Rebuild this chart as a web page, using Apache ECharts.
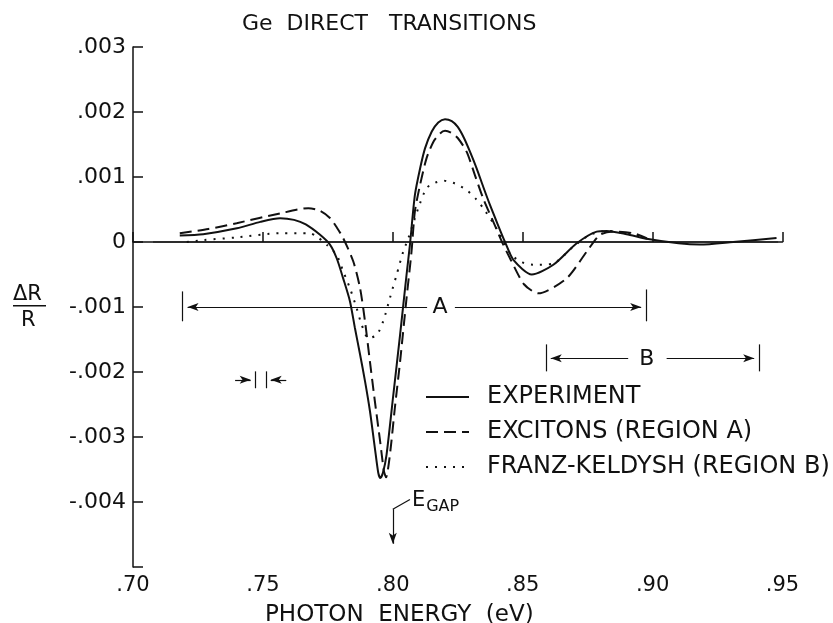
<!DOCTYPE html>
<html><head><meta charset="utf-8">
<script src="https://cdn.jsdelivr.net/npm/echarts/dist/echarts.min.js"></script>
<style>html,body{margin:0;padding:0;background:#fff}#c{width:833px;height:623px}</style>
</head><body><div id="c"></div><script>
// x: photon energy (eV); y: dR/R in units of 1e-3
const seriesNames = ['EXPERIMENT', 'EXCITONS (REGION A)', 'FRANZ-KELDYSH (REGION B)'];
const expX = [0.718,0.727,0.740,0.749,0.7566,0.762,0.7665,0.772,0.7758,0.7784,0.7809,0.7835,0.7854,0.7874,0.7893,0.7912,0.7931,0.7944,0.7952,0.7962,0.7976,0.8002,0.8028,0.8053,0.8066,0.8085,0.8105,0.8124,0.815,0.8175,0.8201,0.8227,0.8250,0.8274,0.8297,0.8323,0.8348,0.8374,0.840,0.8432,0.8465,0.8535,0.8618,0.8708,0.8785,0.8823,0.890,0.8977,0.910,0.9182,0.931,0.9477];
const expY = [0.10,0.12,0.21,0.31,0.366,0.34,0.27,0.11,-0.04,-0.25,-0.56,-0.91,-1.32,-1.73,-2.14,-2.60,-3.17,-3.55,-3.63,-3.55,-3.27,-2.35,-1.43,-0.50,-0.04,0.72,1.13,1.44,1.70,1.84,1.89,1.86,1.77,1.60,1.39,1.13,0.85,0.57,0.31,0.0,-0.28,-0.50,-0.35,-0.02,0.16,0.17,0.12,0.05,-0.02,-0.04,0.0,0.06];
const excX = [0.718,0.729,0.7399,0.7566,0.7675,0.772,0.7758,0.7785,0.7809,0.7848,0.7874,0.7893,0.7912,0.7931,0.7951,0.7966,0.7974,0.7989,0.8008,0.8028,0.8053,0.8072,0.8085,0.8105,0.813,0.8156,0.8182,0.8201,0.8225,0.8250,0.8284,0.8316,0.8348,0.8387,0.8425,0.8451,0.8505,0.856,0.8669,0.8746,0.8797,0.8849,0.8926,0.8977];
const excY = [0.135,0.20,0.29,0.44,0.52,0.48,0.37,0.22,0.06,-0.30,-0.71,-1.22,-1.84,-2.45,-3.06,-3.53,-3.62,-3.27,-2.55,-1.84,-0.86,-0.15,0.47,0.88,1.29,1.54,1.67,1.71,1.68,1.60,1.39,1.03,0.67,0.31,-0.04,-0.25,-0.65,-0.79,-0.56,-0.15,0.11,0.16,0.135,0.06];
const fkX = [0.7207,0.7271,0.7399,0.7566,0.7681,0.7707,0.7745,0.7784,0.7809,0.7835,0.7861,0.788,0.7906,0.7938,0.7963,0.7989,0.8015,0.804,0.806,0.8098,0.813,0.8162,0.8194,0.8239,0.8284,0.8323,0.8348,0.8387,0.8413,0.8451,0.849,0.854,0.8618,0.8695,0.8759,0.8823,0.8926,0.9003];
const fkY = [0.0,0.03,0.07,0.135,0.135,0.085,-0.04,-0.20,-0.45,-0.71,-1.02,-1.27,-1.48,-1.43,-1.22,-0.86,-0.50,-0.15,0.06,0.52,0.83,0.91,0.945,0.90,0.80,0.65,0.52,0.29,0.11,-0.17,-0.30,-0.35,-0.33,-0.07,0.11,0.17,0.11,0.02];
const zeroX = [0.7077, 0.9483];
const zeroY = [0, 0];
const xMin = 0.70, xMax = 0.95, xStep = 0.05;
const yMin = -5, yMax = 3, yStep = 1;

const zip = (xs, ys) => xs.map((x, i) => [x, ys[i]]);
const FONT = 'DejaVu Sans';
const INK = '#111';

// annotation geometry in data coordinates
const dx = 0.0019, dy = 0.077;
const arrowSym = {symbol: 'arrow', symbolSize: [6, 11]};
const seg = (a, b, startArrow, endArrow) => [
  Object.assign({coord: a}, startArrow ? arrowSym : {symbol: 'none'}),
  Object.assign({coord: b}, endArrow ? arrowSym : {symbol: 'none'})
];
const aY = -1.0, bY = -1.79, rY = -2.12;
const markLines = [
  seg([0.7191, -0.76], [0.7191, -1.22]),
  seg([0.8975, -0.73], [0.8975, -1.22]),
  seg([0.7191 + dx, aY], [0.8132, aY], true, false),
  seg([0.8239, aY], [0.8975 - dx, aY], false, true),
  seg([0.8589, -1.575], [0.8589, -1.99]),
  seg([0.941, -1.575], [0.941, -1.99]),
  seg([0.8589 + dx, bY], [0.8906, bY], true, false),
  seg([0.9054, bY], [0.941 - dx, bY], false, true),
  seg([0.7472, -1.99], [0.7472, -2.25]),
  seg([0.7511, -1.99], [0.7511, -2.25]),
  seg([0.7393, rY], [0.7472 - dx, rY], false, true),
  seg([0.7590, rY], [0.7511 + dx, rY], false, true),
  seg([0.80, -4.11], [0.80, -4.72 + dy], false, true),
  seg([0.80, -4.11], [0.8066, -3.96])
];
const txt = (coord, text, size) => ({
  coord, symbol: 'rect', symbolSize: 1, itemStyle: {color: 'rgba(0,0,0,0)'},
  label: {show: true, position: 'inside', formatter: text, color: INK, fontFamily: FONT, fontSize: size}
});
const clear = 'rgba(0,0,0,0)';

const chart = echarts.init(document.getElementById('c'), null, {renderer: 'canvas'});
chart.setOption({
  animation: false,
  backgroundColor: '#fff',
  title: [{
    text: 'Ge  DIRECT   TRANSITIONS', left: 242, top: 13, padding: 0,
    textStyle: {fontFamily: FONT, fontSize: 22, fontWeight: 'normal', color: INK}
  }, {
    text: 'PHOTON  ENERGY  (eV)', left: 265, top: 604, padding: 0,
    textStyle: {fontFamily: FONT, fontSize: 23, fontWeight: 'normal', color: INK}
  }],
  grid: {left: 133, right: 50.5, top: 47, bottom: 56},
  legend: {
    data: seriesNames, orient: 'vertical', left: 425, top: 385, padding: 0,
    itemWidth: 43, itemHeight: 24, itemGap: 11, selectedMode: false,
    itemStyle: {color: clear, borderColor: clear, borderWidth: 0},
    textStyle: {fontFamily: FONT, fontSize: 24, color: INK, lineHeight: 24, padding: [0, 0, 0, 13]}
  },
  xAxis: {
    type: 'value', min: xMin, max: xMax, interval: xStep,
    axisLine: {lineStyle: {color: INK, width: 1.5}},
    axisTick: {inside: true, length: 10, lineStyle: {color: INK, width: 1.5}},
    axisLabel: {fontFamily: FONT, fontSize: 21, color: INK, margin: 8,
      formatter: v => '.' + Math.round(v * 100)},
    splitLine: {show: false}
  },
  yAxis: {
    type: 'value', min: yMin, max: yMax, interval: yStep,
    axisLine: {show: true, lineStyle: {color: INK, width: 1.5}},
    axisTick: {show: true, inside: true, length: 10, lineStyle: {color: INK, width: 1.5}},
    axisLabel: {fontFamily: FONT, fontSize: 22, color: INK, margin: 7,
      formatter: v => v === yMin ? '' : (v === 0 ? '0' : (v < 0 ? '-' : '') + '.00' + Math.abs(v))},
    splitLine: {show: false}
  },
  graphic: [
    {type: 'text', left: 13, top: 284, style: {text: 'ΔR', font: '21px "DejaVu Sans"', fill: INK}},
    {type: 'rect', shape: {x: 13, y: 305, width: 33, height: 1.5}, style: {fill: INK}},
    {type: 'text', left: 21, top: 310, style: {text: 'R', font: '21px "DejaVu Sans"', fill: INK}}
  ],
  series: [
    {
      name: 'zero', type: 'line', data: zip(zeroX, zeroY), symbol: 'none', silent: true,
      lineStyle: {color: INK, width: 1.1},
      markLine: {silent: true, animation: false, symbol: ['none', 'none'], label: {show: false},
        lineStyle: {color: INK, width: 1.2, type: 'solid'}, emphasis: {disabled: true}, data: markLines},
      markPoint: {silent: true, animation: false, data: [
        txt([0.8182, -1.0], 'A', 22), txt([0.8978, -1.80], 'B', 22),
        txt([0.8099, -3.98], 'E', 21), txt([0.8192, -4.07], 'GAP', 16)
      ]}
    },
    {
      name: seriesNames[0], type: 'line', data: zip(expX, expY), symbol: 'none', smooth: 0.25,
      lineStyle: {color: INK, width: 2}, itemStyle: {color: INK}
    },
    {
      name: seriesNames[1], type: 'line', data: zip(excX, excY), symbol: 'none', smooth: 0.25,
      lineStyle: {color: INK, width: 2, type: [12, 6]}, itemStyle: {color: INK}
    },
    {
      name: seriesNames[2], type: 'line', data: zip(fkX, fkY), symbol: 'none', smooth: 0.25,
      lineStyle: {color: INK, width: 2, type: [2, 7]}, itemStyle: {color: INK}
    }
  ]
});
</script></body></html>
